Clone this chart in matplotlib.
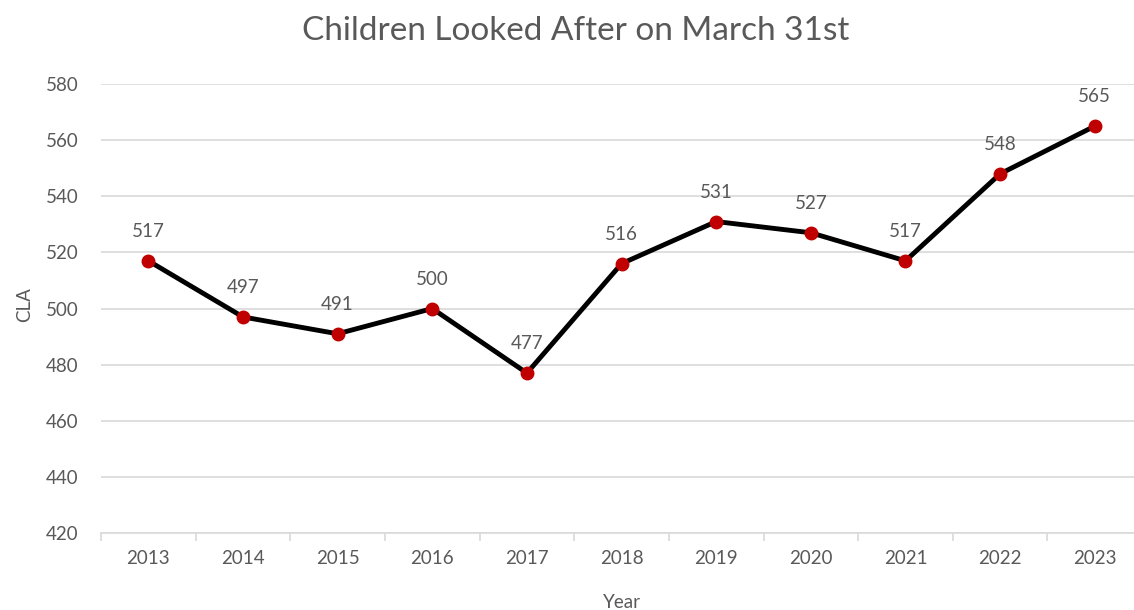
import matplotlib
matplotlib.use("Agg")
import matplotlib.pyplot as plt

years = ["2013", "2014", "2015", "2016", "2017", "2018", "2019", "2020", "2021", "2022", "2023"]
cla = [517, 497, 491, 500, 477, 516, 531, 527, 517, 548, 565]
yticks = [420, 440, 460, 480, 500, 520, 540, 560, 580]

plt.rcParams['font.family'] = ['Lato', 'DejaVu Sans']
grey = '#595959'

fig = plt.figure(figsize=(11.34, 6.10), dpi=100)
ax = fig.add_axes((0.0891, 0.1262, 0.918, 0.736))

x = range(len(years))
ax.plot(x, cla, color='black', linewidth=3.5, marker='o', markersize=9,
        markerfacecolor='#C00000', markeredgecolor='#C00000', zorder=3)
for i, v in zip(x, cla):
    ax.annotate(str(v), (i, v), xytext=(0, 15), textcoords='offset points',
                ha='center', va='bottom', fontsize=13.5, color=grey)

ax.set_xlim(-0.5, len(years) - 0.5)
ax.set_ylim(420, 580)
ax.set_yticks(yticks)
ax.set_xticks(x)
ax.set_xticklabels(years)
ax.set_xticks([i - 0.5 for i in range(len(years) + 1)], minor=True)

ax.grid(axis='y', color='#D9D9D9', linewidth=1.2)
ax.set_axisbelow(True)
for s in ['top', 'right', 'left']:
    ax.spines[s].set_visible(False)
ax.spines['bottom'].set_color('#D9D9D9')
ax.spines['bottom'].set_linewidth(1.2)

ax.tick_params(axis='y', length=0, pad=16, labelsize=13.5, labelcolor=grey)
ax.tick_params(axis='x', which='major', length=0, pad=12, labelsize=13.5, labelcolor=grey)
ax.tick_params(axis='x', which='minor', length=6, color='#D9D9D9', width=1.2)

fig.text(0.508, 0.949, "Children Looked After on March 31st", ha='center', va='center',
         fontsize=24, color=grey)
fig.text(0.548, 0.013, "Year", ha='center', va='center', fontsize=13.5, color=grey)
fig.text(0.022, 0.5, "CLA", ha='center', va='center', rotation=90, fontsize=13.5, color=grey)

fig.savefig("out.png", dpi=100)
